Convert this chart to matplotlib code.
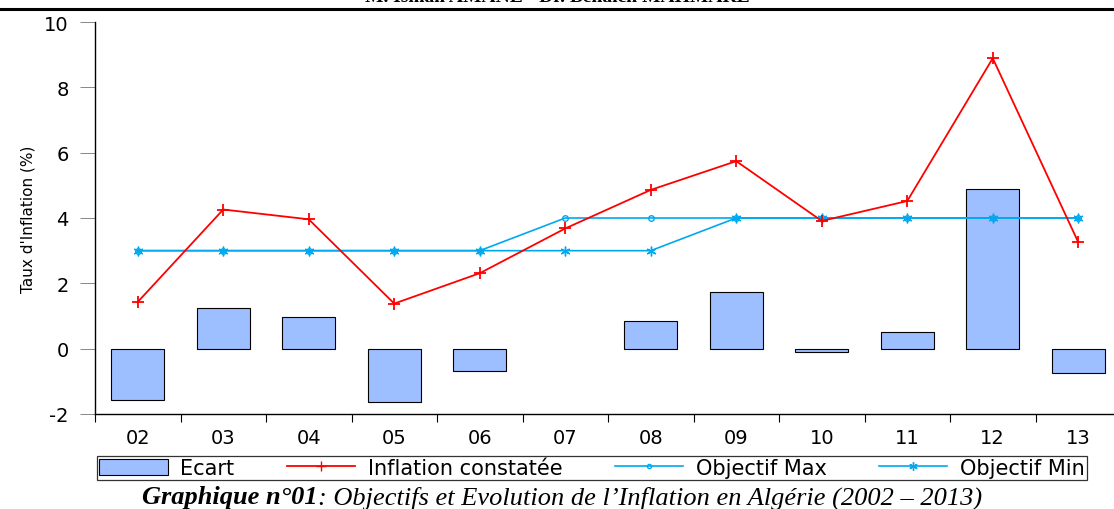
import numpy as np
import matplotlib.pyplot as plt
from matplotlib.lines import Line2D

years = ["02", "03", "04", "05", "06", "07", "08", "09", "10", "11", "12", "13"]
inflation = [1.43, 4.26, 3.96, 1.38, 2.31, 3.68, 4.86, 5.74, 3.91, 4.52, 8.89, 3.26]
obj_max = [3, 3, 3, 3, 3, 4, 4, 4, 4, 4, 4, 4]
obj_min = [3, 3, 3, 3, 3, 3, 3, 4, 4, 4, 4, 4]
# 07 : inflation inside the target band -> no gap bar
ecart = [-1.57, 1.26, 0.96, -1.62, -0.69, np.nan, 0.86, 1.74, -0.09, 0.52, 4.89, -0.74]

plt.rcParams['font.family'] = ['DejaVu Sans']
plt.rcParams['axes.unicode_minus'] = False

fig = plt.figure(figsize=(11.14, 5.10), dpi=100)
ax = fig.add_axes([95 / 1114, 95 / 510, 1026 / 1114, 392 / 510])

x = np.arange(len(years))
blue = '#00A8F0'
ax.bar(x, ecart, width=0.62, color='#9DBEFF', edgecolor='black', linewidth=0.8,
       label='Ecart', zorder=2)
ax.plot(x, inflation, color='red', lw=1.3, marker='+', ms=9, mew=1.3,
        label='Inflation constatée', zorder=4)
ax.plot(x, obj_max, color=blue, lw=1.2, marker='o', ms=4, mfc='none', mew=1.0,
        label='Objectif Max', zorder=3)
ax.plot(x, obj_min, color=blue, lw=1.2, marker=(6, 2, 0), ms=7, mew=1.0,
        label='Objectif Min', zorder=3)

ax.set_xlim(-0.5, len(years) - 0.5)
ax.set_ylim(-2, 10)
ax.set_yticks([-2, 0, 2, 4, 6, 8, 10])
ax.set_xticks(x)
ax.set_xticklabels(years)
ax.set_xticks(np.arange(len(years)) - 0.5, minor=True)
ax.tick_params(axis='x', which='major', length=0, pad=10, labelsize=14)
ax.tick_params(axis='x', which='minor', length=6, direction='out', width=0.8)
ax.tick_params(axis='y', length=11, direction='out', width=0.7, color='#888888',
               labelsize=14, pad=8)
ax.spines['top'].set_visible(False)
ax.spines['right'].set_visible(False)
ax.spines['left'].set_linewidth(1.0)
ax.spines['bottom'].set_linewidth(1.0)
ax.set_ylabel("Taux d'Inflation (%)", fontsize=11, labelpad=6)

handles = [plt.Rectangle((0, 0), 1, 1, facecolor='#9DBEFF', edgecolor='black', lw=0.8),
           Line2D([], [], color='red', lw=1.3, marker='+', ms=7),
           Line2D([], [], color=blue, lw=1.2, marker='o', ms=3, mfc='none'),
           Line2D([], [], color=blue, lw=1.2, marker=(6, 2, 0), ms=6)]
labels = ['Ecart', 'Inflation constatée', 'Objectif Max', 'Objectif Min']
leg = fig.legend(handles, labels, loc='lower left', ncol=4,
                 bbox_to_anchor=(97 / 1114, 29 / 510),
                 fontsize=15, handlelength=3.3, handleheight=0.8, handletextpad=0.6,
                 borderpad=0.1, columnspacing=2.5, frameon=True, fancybox=False,
                 borderaxespad=0)
leg.get_frame().set_edgecolor('black')
leg.get_frame().set_linewidth(0.9)

# top rule and cut-off header
fig.add_artist(Line2D([0, 1], [1 - 10 / 510, 1 - 10 / 510], color='black', lw=2.2))
fig.text(0.5, 1.0 + 3 / 510, "M. Ismail AMANE - Dr. Benaïch MAHMARE", ha='center', va='center',
         fontsize=14, fontweight='bold', family='Liberation Serif')

split = 318 / 1114
fig.text(split, 12 / 510, "Graphique n°01", ha='right', va='center', fontsize=19,
         fontweight='bold', fontstyle='italic', family='Liberation Serif')
fig.text(split, 12 / 510, ": Objectifs et Evolution de l\u2019Inflation en Algérie (2002 \u2013 2013)",
         ha='left', va='center', fontsize=19, fontstyle='italic', family='Liberation Serif')

fig.savefig('out.png', dpi=100)
